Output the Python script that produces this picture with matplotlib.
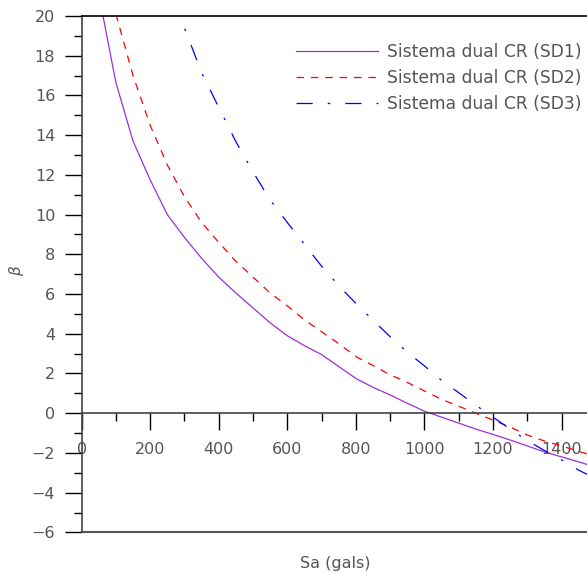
import numpy as np
import matplotlib
matplotlib.use('Agg')
import matplotlib.pyplot as plt
from matplotlib.ticker import MultipleLocator

# Sa (gals) sample points and beta values
sa1 = [50, 100, 150, 200, 250, 300, 350, 400, 450, 500, 550, 600, 650, 700, 750,
       800, 850, 900, 950, 1000, 1050, 1100, 1150, 1200, 1250, 1300, 1350, 1400, 1450, 1500]
beta_sd1 = [21.1, 16.65, 13.7, 11.75, 10.0, 8.85, 7.8, 6.85, 6.05, 5.3, 4.55, 3.9, 3.4, 2.95, 2.35,
            1.75, 1.3, 0.92, 0.5, 0.1, -0.2, -0.5, -0.8, -1.07, -1.35, -1.65, -1.95, -2.2, -2.45, -2.72]

sa2 = [100, 150, 200, 250, 300, 350, 400, 450, 500, 550, 600, 650, 700, 750,
       800, 850, 900, 950, 1000, 1050, 1100, 1150, 1200, 1250, 1300, 1350, 1400, 1450, 1500]
beta_sd2 = [20.1, 17.0, 14.5, 12.5, 10.9, 9.6, 8.6, 7.65, 6.85, 6.05, 5.4, 4.7, 4.1, 3.5,
            2.85, 2.4, 1.93, 1.55, 1.12, 0.7, 0.35, 0.0, -0.35, -0.7, -1.1, -1.4, -1.65, -1.92, -2.2]

sa3 = [250, 300, 350, 400, 450, 500, 550, 600, 650, 700, 750, 800, 850, 900, 950,
       1000, 1050, 1100, 1150, 1200, 1250, 1300, 1350, 1400, 1450, 1500]
beta_sd3 = [22.0, 19.4, 17.15, 15.4, 13.67, 12.15, 10.73, 9.6, 8.5, 7.4, 6.42, 5.53, 4.68, 3.85, 3.07,
            2.38, 1.65, 1.03, 0.4, -0.2, -0.8, -1.38, -1.88, -2.35, -2.87, -3.3]

labels = ['Sistema dual CR (SD1)', 'Sistema dual CR (SD2)', 'Sistema dual CR (SD3)']

gray = '#555555'
fig = plt.figure(figsize=(5.87, 5.73), dpi=100)
ax = fig.add_axes([0.139, 0.0709, 0.861, 0.9012])

ax.plot(sa1, beta_sd1, color='#9b30d9', lw=0.9, label=labels[0])
ax.plot(sa2, beta_sd2, color='red', lw=0.9, dashes=(6, 5.5), label=labels[1])
ax.plot(sa3, beta_sd3, color='blue', lw=0.9, dashes=(13, 12, 2, 12), label=labels[2])

ax.set_xlim(0, 1474)
ax.set_ylim(-6, 20)

ax.spines['right'].set_visible(False)
ax.spines['bottom'].set_position(('data', 0))
for s in ['left', 'bottom']:
    ax.spines[s].set_color('#444444')
    ax.spines[s].set_linewidth(1.2)
ax.spines['top'].set_color('black')
ax.spines['top'].set_linewidth(1.2)
ax.axhline(-6, color='#555555', lw=1.5, clip_on=False)

ax.xaxis.set_major_locator(MultipleLocator(200))
ax.xaxis.set_minor_locator(MultipleLocator(100))
ax.yaxis.set_major_locator(MultipleLocator(2))
ax.yaxis.set_minor_locator(MultipleLocator(1))
ax.tick_params(axis='x', which='major', direction='out', length=12, width=1, pad=9,
               colors='black', labelcolor=gray, labelsize=11.5)
ax.tick_params(axis='x', which='minor', direction='out', length=6, width=1, colors='black')
ax.tick_params(axis='y', which='major', direction='out', length=12, width=1, pad=7,
               colors='black', labelcolor=gray, labelsize=11.5)
ax.tick_params(axis='y', which='minor', direction='out', length=6, width=1, colors='black')

fig.text(0.028, 0.528, r'$\beta$', rotation=90, color=gray, fontsize=11,
         ha='center', va='center')
fig.text(0.571, 0.017, 'Sa (gals)', color=gray, fontsize=11.5, ha='center', va='center')

leg = ax.legend(loc='upper right', bbox_to_anchor=(1.01, 0.968), frameon=False,
                handlelength=4.8, handletextpad=0.53, labelspacing=0.47,
                fontsize=12.3, borderaxespad=0.2)
for t in leg.get_texts():
    t.set_color(gray)

fig.savefig('out.png', dpi=100)
